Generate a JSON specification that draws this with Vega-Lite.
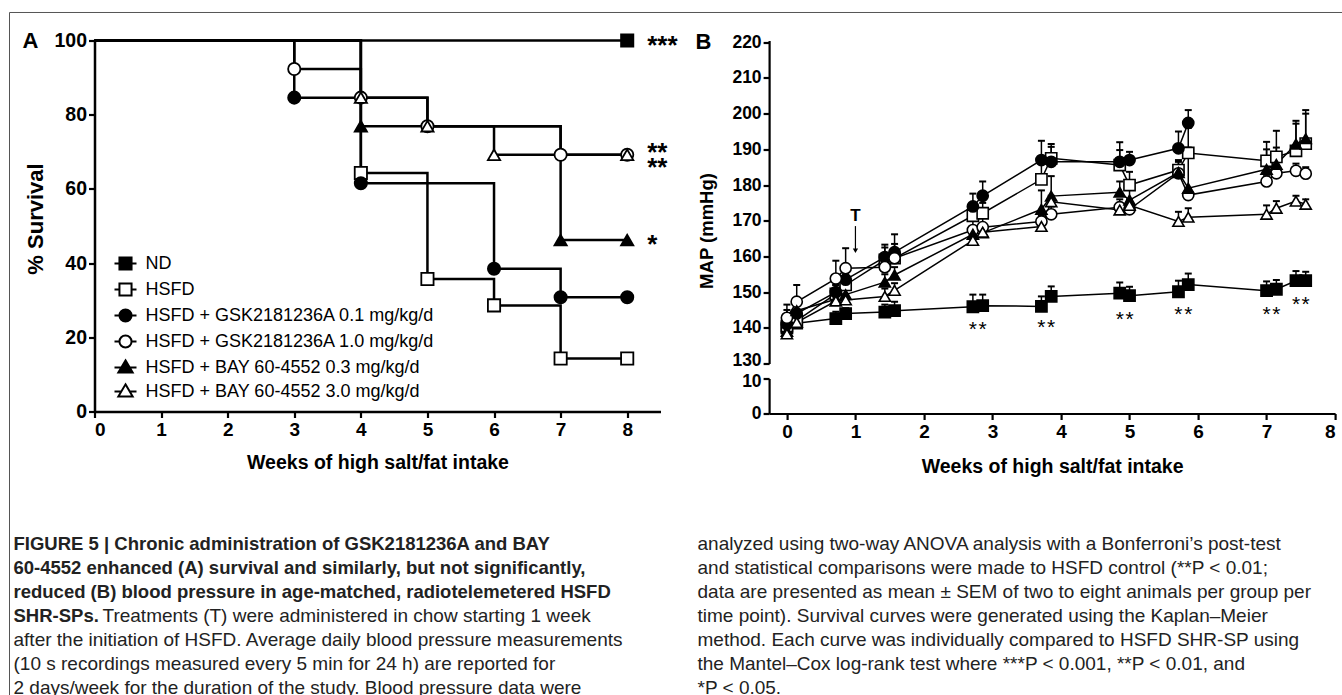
{
  "$schema": "https://vega.github.io/schema/vega-lite/v6.json",
  "autosize": {"type": "pad"},
  "padding": {"left": 8.5, "top": 11.5, "right": 0, "bottom": 0},
  "background": "white",
  "config": {
    "view": {"stroke": null},
    "font": "Liberation Sans",
    "axis": {
      "domainColor": "black", "tickColor": "black", "labelColor": "black", "titleColor": "black",
      "labelFont": "Liberation Sans", "titleFont": "Liberation Sans",
      "labelFontWeight": "bold", "titleFontWeight": "bold", "grid": false,
      "domainWidth": 2.5, "tickWidth": 2.2, "tickSize": 6, "labelOverlap": false, "format": "d", "tickCount": 30
    }
  },
  "datasets": {
    "km": [
      {"s": "ND", "t": 0, "v": 100}, {"s": "ND", "t": 8, "v": 100},
      {"s": "HSFD", "t": 0, "v": 100}, {"s": "HSFD", "t": 4, "v": 64.3}, {"s": "HSFD", "t": 5, "v": 35.7}, {"s": "HSFD", "t": 6, "v": 28.6}, {"s": "HSFD", "t": 7, "v": 14.3}, {"s": "HSFD", "t": 8, "v": 14.3},
      {"s": "G01", "t": 0, "v": 100}, {"s": "G01", "t": 3, "v": 84.6}, {"s": "G01", "t": 4, "v": 61.5}, {"s": "G01", "t": 6, "v": 38.5}, {"s": "G01", "t": 7, "v": 30.8}, {"s": "G01", "t": 8, "v": 30.8},
      {"s": "G10", "t": 0, "v": 100}, {"s": "G10", "t": 3, "v": 92.3}, {"s": "G10", "t": 4, "v": 84.6}, {"s": "G10", "t": 5, "v": 76.9}, {"s": "G10", "t": 7, "v": 69.2}, {"s": "G10", "t": 8, "v": 69.2},
      {"s": "B03", "t": 0, "v": 100}, {"s": "B03", "t": 4, "v": 76.9}, {"s": "B03", "t": 7, "v": 46.2}, {"s": "B03", "t": 8, "v": 46.2},
      {"s": "B30", "t": 0, "v": 100}, {"s": "B30", "t": 4, "v": 84.6}, {"s": "B30", "t": 5, "v": 76.9}, {"s": "B30", "t": 6, "v": 69.2}, {"s": "B30", "t": 8, "v": 69.2}
    ],
    "names": [
      {"name": "ND"}, {"name": "HSFD"},
      {"name": "HSFD + GSK2181236A 0.1 mg/kg/d"}, {"name": "HSFD + GSK2181236A 1.0 mg/kg/d"},
      {"name": "HSFD + BAY 60-4552 0.3 mg/kg/d"}, {"name": "HSFD + BAY 60-4552 3.0 mg/kg/d"}
    ],
    "kmsig": [
      {"t": 8.3, "v": 98.6, "lab": ["***"]},
      {"t": 8.3, "v": 69.8, "lab": ["**", "**"]},
      {"t": 8.3, "v": 44.8, "lab": ["*"]}
    ],
    "bp": [
      {"s": "ND", "t": 0, "v": 140, "hi": 142.5}, {"s": "ND", "t": 0.143, "v": 141.3, "hi": 143.5}, {"s": "ND", "t": 0.714, "v": 142.6, "hi": 144.5}, {"s": "ND", "t": 0.857, "v": 144, "hi": 145.5}, {"s": "ND", "t": 1.429, "v": 144.4, "hi": 146.5}, {"s": "ND", "t": 1.571, "v": 144.8, "hi": 147.3}, {"s": "ND", "t": 2.714, "v": 145.9, "hi": 149.3}, {"s": "ND", "t": 2.857, "v": 146.2, "hi": 149.3}, {"s": "ND", "t": 3.714, "v": 146, "hi": 148.8}, {"s": "ND", "t": 3.857, "v": 148.8, "hi": 151.6}, {"s": "ND", "t": 4.857, "v": 149.7, "hi": 152.7}, {"s": "ND", "t": 5.0, "v": 149, "hi": 151.5}, {"s": "ND", "t": 5.714, "v": 150.1, "hi": 153.2}, {"s": "ND", "t": 5.857, "v": 152.1, "hi": 155.2}, {"s": "ND", "t": 7.0, "v": 150.4, "hi": 153}, {"s": "ND", "t": 7.143, "v": 150.8, "hi": 153.4}, {"s": "ND", "t": 7.429, "v": 153.2, "hi": 155.9}, {"s": "ND", "t": 7.571, "v": 153.2, "hi": 155.7},
      {"s": "HSFD", "t": 0, "v": 140.5, "hi": 143}, {"s": "HSFD", "t": 0.143, "v": 142, "hi": 144}, {"s": "HSFD", "t": 0.714, "v": 149.5, "hi": 152}, {"s": "HSFD", "t": 0.857, "v": 152, "hi": 155}, {"s": "HSFD", "t": 1.429, "v": 159, "hi": 162.5}, {"s": "HSFD", "t": 1.571, "v": 159.5, "hi": 163.5}, {"s": "HSFD", "t": 2.714, "v": 171.4, "hi": 174}, {"s": "HSFD", "t": 2.857, "v": 172.1, "hi": 175}, {"s": "HSFD", "t": 3.714, "v": 181.6, "hi": 187}, {"s": "HSFD", "t": 3.857, "v": 187.5, "hi": 190.7}, {"s": "HSFD", "t": 4.857, "v": 185.6, "hi": 189.8}, {"s": "HSFD", "t": 5.0, "v": 180, "hi": 183.7}, {"s": "HSFD", "t": 5.714, "v": 184.2, "hi": 187}, {"s": "HSFD", "t": 5.857, "v": 189, "hi": 190.5}, {"s": "HSFD", "t": 7.0, "v": 186.8, "hi": 192.1}, {"s": "HSFD", "t": 7.143, "v": 187.9, "hi": 195.2}, {"s": "HSFD", "t": 7.429, "v": 189.6, "hi": 197.2}, {"s": "HSFD", "t": 7.571, "v": 191.6, "hi": 200},
      {"s": "G01", "t": 0, "v": 141, "hi": 146.5}, {"s": "G01", "t": 0.143, "v": 144, "hi": 147}, {"s": "G01", "t": 0.714, "v": 150, "hi": 152}, {"s": "G01", "t": 0.857, "v": 153.5, "hi": 156}, {"s": "G01", "t": 1.429, "v": 159.8, "hi": 163.3}, {"s": "G01", "t": 1.571, "v": 161.2, "hi": 166.2}, {"s": "G01", "t": 2.714, "v": 174, "hi": 177.6}, {"s": "G01", "t": 2.857, "v": 177, "hi": 181}, {"s": "G01", "t": 3.714, "v": 187, "hi": 192.4}, {"s": "G01", "t": 3.857, "v": 186.5, "hi": 191.5}, {"s": "G01", "t": 4.857, "v": 186.5, "hi": 192}, {"s": "G01", "t": 5.0, "v": 187, "hi": 189.3}, {"s": "G01", "t": 5.714, "v": 190.3, "hi": 195}, {"s": "G01", "t": 5.857, "v": 197.4, "hi": 201},
      {"s": "G10", "t": 0, "v": 142.8, "hi": 145}, {"s": "G10", "t": 0.143, "v": 147.3, "hi": 152}, {"s": "G10", "t": 0.714, "v": 153.8, "hi": 158.8}, {"s": "G10", "t": 0.857, "v": 156.7, "hi": 162.3}, {"s": "G10", "t": 1.429, "v": 157, "hi": 160}, {"s": "G10", "t": 1.571, "v": 159.5, "hi": 162}, {"s": "G10", "t": 2.714, "v": 167.4, "hi": 170}, {"s": "G10", "t": 2.857, "v": 168.2, "hi": 171}, {"s": "G10", "t": 3.714, "v": 169.8, "hi": 171.5}, {"s": "G10", "t": 3.857, "v": 171.8, "hi": 174}, {"s": "G10", "t": 4.857, "v": 173.8, "hi": 176}, {"s": "G10", "t": 5.0, "v": 173.2, "hi": 175}, {"s": "G10", "t": 5.714, "v": 183.3, "hi": 185}, {"s": "G10", "t": 5.857, "v": 177.2, "hi": 179}, {"s": "G10", "t": 7.0, "v": 181, "hi": 182.5}, {"s": "G10", "t": 7.143, "v": 183.3, "hi": 185}, {"s": "G10", "t": 7.429, "v": 184, "hi": 186}, {"s": "G10", "t": 7.571, "v": 183.2, "hi": 185},
      {"s": "B03", "t": 0, "v": 139, "hi": 141}, {"s": "B03", "t": 0.143, "v": 144.8, "hi": 147}, {"s": "B03", "t": 0.714, "v": 148, "hi": 150}, {"s": "B03", "t": 0.857, "v": 149.3, "hi": 152}, {"s": "B03", "t": 1.429, "v": 152.8, "hi": 155}, {"s": "B03", "t": 1.571, "v": 154.8, "hi": 157}, {"s": "B03", "t": 2.714, "v": 166.2, "hi": 168}, {"s": "B03", "t": 2.857, "v": 166.6, "hi": 168.5}, {"s": "B03", "t": 3.714, "v": 173.2, "hi": 178.5}, {"s": "B03", "t": 3.857, "v": 176.9, "hi": 182.5}, {"s": "B03", "t": 4.857, "v": 178, "hi": 181}, {"s": "B03", "t": 5.0, "v": 175.8, "hi": 181}, {"s": "B03", "t": 5.714, "v": 183.5, "hi": 186.5}, {"s": "B03", "t": 5.857, "v": 179.1, "hi": 196}, {"s": "B03", "t": 7.0, "v": 184.4, "hi": 190}, {"s": "B03", "t": 7.143, "v": 185.8, "hi": 190.5}, {"s": "B03", "t": 7.429, "v": 191.5, "hi": 198}, {"s": "B03", "t": 7.571, "v": 193, "hi": 201},
      {"s": "B30", "t": 0, "v": 138.3, "hi": 140}, {"s": "B30", "t": 0.143, "v": 141.5, "hi": 143}, {"s": "B30", "t": 0.714, "v": 147.5, "hi": 149}, {"s": "B30", "t": 0.857, "v": 147.8, "hi": 149.5}, {"s": "B30", "t": 1.429, "v": 148.8, "hi": 151}, {"s": "B30", "t": 1.571, "v": 150.5, "hi": 152.5}, {"s": "B30", "t": 2.714, "v": 164.5, "hi": 166}, {"s": "B30", "t": 2.857, "v": 166.8, "hi": 168}, {"s": "B30", "t": 3.714, "v": 168.4, "hi": 170}, {"s": "B30", "t": 3.857, "v": 175.3, "hi": 177}, {"s": "B30", "t": 4.857, "v": 173, "hi": 175}, {"s": "B30", "t": 5.0, "v": 174.3, "hi": 176}, {"s": "B30", "t": 5.714, "v": 169.8, "hi": 172.5}, {"s": "B30", "t": 5.857, "v": 171, "hi": 173.5}, {"s": "B30", "t": 7.0, "v": 171.8, "hi": 174.3}, {"s": "B30", "t": 7.143, "v": 173.5, "hi": 175.5}, {"s": "B30", "t": 7.429, "v": 175.5, "hi": 177}, {"s": "B30", "t": 7.571, "v": 174.6, "hi": 176}
    ],
    "bpsig": [
      {"t": 2.714, "v": 139.5}, {"t": 2.857, "v": 139.5},
      {"t": 3.714, "v": 139.9}, {"t": 3.857, "v": 139.9},
      {"t": 4.857, "v": 142.3}, {"t": 5.0, "v": 142.3},
      {"t": 5.714, "v": 143.5}, {"t": 5.857, "v": 143.5},
      {"t": 7.0, "v": 143.7}, {"t": 7.143, "v": 143.7},
      {"t": 7.429, "v": 146.5}, {"t": 7.571, "v": 146.5}
    ],
    "caption": [
      {"c": 0, "r": 0, "w": "b", "txt": "FIGURE 5 | Chronic administration of GSK2181236A and BAY"},
      {"c": 0, "r": 1, "w": "b", "txt": "60-4552 enhanced (A) survival and similarly, but not significantly,"},
      {"c": 0, "r": 2, "w": "b", "txt": "reduced (B) blood pressure in age-matched, radiotelemetered HSFD"},
      {"c": 0, "r": 3, "w": "b", "txt": "SHR-SPs."},
      {"c": 0, "r": 3, "w": "n2", "txt": "Treatments (T) were administered in chow starting 1 week"},
      {"c": 0, "r": 4, "w": "n", "txt": "after the initiation of HSFD. Average daily blood pressure measurements"},
      {"c": 0, "r": 5, "w": "n", "txt": "(10 s recordings measured every 5 min for 24 h) are reported for"},
      {"c": 0, "r": 6, "w": "n", "txt": "2 days/week for the duration of the study. Blood pressure data were"},
      {"c": 1, "r": 0, "w": "n", "txt": "analyzed using two-way ANOVA analysis with a Bonferroni’s post-test"},
      {"c": 1, "r": 1, "w": "n", "txt": "and statistical comparisons were made to HSFD control (**P < 0.01;"},
      {"c": 1, "r": 2, "w": "n", "txt": "data are presented as mean ± SEM of two to eight animals per group per"},
      {"c": 1, "r": 3, "w": "n", "txt": "time point). Survival curves were generated using the Kaplan–Meier"},
      {"c": 1, "r": 4, "w": "n", "txt": "method. Each curve was individually compared to HSFD SHR-SP using"},
      {"c": 1, "r": 5, "w": "n", "txt": "the Mantel–Cox log-rank test where ***P < 0.001, **P < 0.01, and"},
      {"c": 1, "r": 6, "w": "n", "txt": "*P < 0.05."}
    ]
  },
  "bounds": "flush",
  "spacing": 503,
  "vconcat": [
    {
      "bounds": "flush",
      "spacing": 108.6,
      "hconcat": [
        {
          "width": 566,
          "height": 371,
          "layer": [
            {
              "data": {"values": [{}]},
              "mark": {"type": "rule", "color": "#555", "strokeWidth": 1},
              "encoding": {
                "x": {"datum": -1.2765, "type": "quantitative"},
                "y": {"datum": 107.55, "type": "quantitative"},
                "y2": {"datum": -80}
              }
            },
            {
              "data": {"values": [{}]},
              "mark": {"type": "rule", "color": "#555", "strokeWidth": 1},
              "encoding": {
                "x": {"datum": -1.2765, "type": "quantitative"},
                "x2": {"datum": 19},
                "y": {"datum": 107.55, "type": "quantitative"}
              }
            },
            {
              "data": {"name": "km"},
              "mark": {"type": "line", "interpolate": "step-after", "color": "black", "strokeWidth": 2.5},
              "encoding": {
                "x": {"field": "t", "type": "quantitative", "scale": {"domain": [0, 8.5], "nice": false, "zero": false},
                  "axis": {"values": [0, 1, 2, 3, 4, 5, 6, 7, 8], "labelFontSize": 19, "labelPadding": 3, "title": "Weeks of high salt/fat intake", "titleFontSize": 19.5, "titleBaseline": "middle", "titleY": 51}},
                "y": {"field": "v", "type": "quantitative", "scale": {"domain": [0, 100], "nice": false},
                  "axis": {"values": [0, 20, 40, 60, 80, 100], "labelFontSize": 19.5, "labelPadding": 2, "title": "% Survival", "titleFontSize": 22, "titleBaseline": "middle", "titleX": -59, "titleY": 178}},
                "detail": {"field": "s"}
              }
            },
            {
              "data": {"name": "km"},
              "transform": [{"filter": "datum.t > 0"}],
              "mark": {"type": "point", "filled": true, "stroke": "black", "strokeWidth": 1.8, "size": 150, "opacity": 1},
              "encoding": {
                "x": {"field": "t", "type": "quantitative"},
                "y": {"field": "v", "type": "quantitative"},
                "shape": {"condition": [{"test": "datum.s == 'ND' || datum.s == 'HSFD'", "value": "square"}, {"test": "datum.s == 'G01' || datum.s == 'G10'", "value": "circle"}], "value": "triangle-up"},
                "fill": {"condition": {"test": "datum.s == 'ND' || datum.s == 'G01' || datum.s == 'B03'", "value": "black"}, "value": "white"}
              }
            },
            {
              "data": {"name": "names"},
              "mark": {"type": "point", "filled": true, "strokeWidth": 2, "opacity": 1, "clip": true},
              "encoding": {
                "x": {"datum": -1, "type": "quantitative"},
                "y": {"datum": 50, "type": "quantitative"},
                "shape": {"field": "name", "type": "nominal",
                  "scale": {
                    "domain": ["ND", "HSFD", "HSFD + GSK2181236A 0.1 mg/kg/d", "HSFD + GSK2181236A 1.0 mg/kg/d", "HSFD + BAY 60-4552 0.3 mg/kg/d", "HSFD + BAY 60-4552 3.0 mg/kg/d"],
                    "range": [
                      "M-1,0H-0.55M0.55,0H1M-0.55,-0.55H0.55V0.55H-0.55Z",
                      "M-1,0H-0.55M0.55,0H1M-0.55,-0.55H0.55V0.55H-0.55Z",
                      "M-1,0H-0.55M0.55,0H1M0.55,0A0.55,0.55,0,1,1,-0.55,0A0.55,0.55,0,1,1,0.55,0Z",
                      "M-1,0H-0.55M0.55,0H1M0.55,0A0.55,0.55,0,1,1,-0.55,0A0.55,0.55,0,1,1,0.55,0Z",
                      "M-1,0H-0.38M0.38,0H1M0,-0.65L0.65,0.45H-0.65Z",
                      "M-1,0H-0.38M0.38,0H1M0,-0.65L0.65,0.45H-0.65Z"
                    ]
                  },
                  "legend": {"title": null, "orient": "none", "legendX": 19, "legendY": 211, "padding": 0, "symbolSize": 484, "symbolStrokeWidth": 2, "labelFontSize": 18, "labelFont": "Liberation Sans", "labelColor": "black", "labelOffset": 8, "rowPadding": 3, "labelLimit": 400}
                },
                "fill": {"field": "name", "type": "nominal",
                  "scale": {
                    "domain": ["ND", "HSFD", "HSFD + GSK2181236A 0.1 mg/kg/d", "HSFD + GSK2181236A 1.0 mg/kg/d", "HSFD + BAY 60-4552 0.3 mg/kg/d", "HSFD + BAY 60-4552 3.0 mg/kg/d"],
                    "range": ["black", "white", "black", "white", "black", "white"]
                  },
                  "legend": {"title": null, "orient": "none", "legendX": 19, "legendY": 211, "padding": 0, "symbolSize": 484, "symbolStrokeWidth": 2, "labelFontSize": 18, "labelFont": "Liberation Sans", "labelColor": "black", "labelOffset": 8, "rowPadding": 3, "labelLimit": 400}
                },
                "stroke": {"field": "name", "type": "nominal",
                  "scale": {
                    "domain": ["ND", "HSFD", "HSFD + GSK2181236A 0.1 mg/kg/d", "HSFD + GSK2181236A 1.0 mg/kg/d", "HSFD + BAY 60-4552 0.3 mg/kg/d", "HSFD + BAY 60-4552 3.0 mg/kg/d"],
                    "range": ["black", "black", "black", "black", "black", "black"]
                  },
                  "legend": {"title": null, "orient": "none", "legendX": 19, "legendY": 211, "padding": 0, "symbolSize": 484, "symbolStrokeWidth": 2, "labelFontSize": 18, "labelFont": "Liberation Sans", "labelColor": "black", "labelOffset": 8, "rowPadding": 3, "labelLimit": 400}
                }
              }
            },
            {
              "data": {"name": "kmsig"},
              "mark": {"type": "text", "align": "left", "baseline": "middle", "fontSize": 26, "fontWeight": "bold", "color": "black", "lineHeight": 15},
              "encoding": {
                "x": {"field": "t", "type": "quantitative"},
                "y": {"field": "v", "type": "quantitative"},
                "text": {"field": "lab"}
              }
            },
            {
              "data": {"values": [{}]},
              "mark": {"type": "text", "align": "center", "baseline": "middle", "fontSize": 22, "fontWeight": "bold", "color": "black", "text": "A"},
              "encoding": {
                "x": {"datum": -0.961, "type": "quantitative"},
                "y": {"datum": 100, "type": "quantitative"}
              }
            }
          ]
        },
        {
          "bounds": "flush",
          "spacing": 15,
          "vconcat": [
            {
              "width": 566,
              "height": 323,
              "layer": [
                {
                  "data": {"name": "bp"},
                  "mark": {"type": "line", "color": "black", "strokeWidth": 1.5},
                  "encoding": {
                    "x": {"field": "t", "type": "quantitative", "scale": {"domain": [-0.26, 8], "nice": false, "zero": false}, "axis": null},
                    "y": {"field": "v", "type": "quantitative", "scale": {"domain": [130, 220.5], "nice": false, "zero": false},
                      "axis": {"values": [130, 140, 150, 160, 170, 180, 190, 200, 210, 220], "tickCount": 30, "labelOverlap": false, "labelFontSize": 17.5, "labelPadding": 2, "labelOffset": {"condition": {"test": "datum.value == 130", "value": -3}, "value": 0}, "domainWidth": 2.2, "title": "MAP (mmHg)", "titleFontSize": 18.5, "titleBaseline": "middle", "titleX": -62.6, "titleY": 190}},
                    "detail": {"field": "s"}
                  }
                },
                {
                  "data": {"name": "bp"},
                  "mark": {"type": "rule", "color": "black", "strokeWidth": 1.5},
                  "encoding": {
                    "x": {"field": "t", "type": "quantitative"},
                    "y": {"field": "v", "type": "quantitative"},
                    "y2": {"field": "hi"}
                  }
                },
                {
                  "data": {"name": "bp"},
                  "mark": {"type": "tick", "orient": "horizontal", "color": "black", "size": 7, "thickness": 2, "opacity": 1},
                  "encoding": {
                    "x": {"field": "t", "type": "quantitative"},
                    "y": {"field": "hi", "type": "quantitative"}
                  }
                },
                {
                  "data": {"name": "bp"},
                  "mark": {"type": "point", "filled": true, "stroke": "black", "strokeWidth": 1.6, "size": 125, "opacity": 1},
                  "encoding": {
                    "x": {"field": "t", "type": "quantitative"},
                    "y": {"field": "v", "type": "quantitative"},
                    "shape": {"condition": [{"test": "datum.s == 'ND' || datum.s == 'HSFD'", "value": "square"}, {"test": "datum.s == 'G01' || datum.s == 'G10'", "value": "circle"}], "value": "triangle-up"},
                    "fill": {"condition": {"test": "datum.s == 'ND' || datum.s == 'G01' || datum.s == 'B03'", "value": "black"}, "value": "white"}
                  }
                },
                {
                  "data": {"name": "bpsig"},
                  "mark": {"type": "text", "align": "center", "baseline": "middle", "fontSize": 21, "color": "black", "text": "*"},
                  "encoding": {
                    "x": {"field": "t", "type": "quantitative"},
                    "y": {"field": "v", "type": "quantitative"}
                  }
                },
                {
                  "data": {"values": [{}]},
                  "mark": {"type": "text", "align": "center", "baseline": "middle", "fontSize": 17, "fontWeight": "bold", "color": "black", "text": "T"},
                  "encoding": {
                    "x": {"datum": 1, "type": "quantitative"},
                    "y": {"datum": 171.3, "type": "quantitative"}
                  }
                },
                {
                  "data": {"values": [{}]},
                  "mark": {"type": "rule", "color": "black", "strokeWidth": 1.2},
                  "encoding": {
                    "x": {"datum": 1, "type": "quantitative"},
                    "y": {"datum": 168.5, "type": "quantitative"},
                    "y2": {"datum": 162}
                  }
                },
                {
                  "data": {"values": [{}]},
                  "mark": {"type": "point", "shape": "triangle-down", "filled": true, "color": "black", "size": 28, "opacity": 1},
                  "encoding": {
                    "x": {"datum": 1, "type": "quantitative"},
                    "y": {"datum": 161.6, "type": "quantitative"}
                  }
                },
                {
                  "data": {"values": [{}]},
                  "mark": {"type": "text", "align": "center", "baseline": "middle", "fontSize": 22, "fontWeight": "bold", "color": "black", "text": "B"},
                  "encoding": {
                    "x": {"datum": -1.217, "type": "quantitative"},
                    "y": {"datum": 220, "type": "quantitative"}
                  }
                }
              ]
            },
            {
              "width": 566,
              "height": 35,
              "data": {"values": [{"t": 0, "v": 0}]},
              "mark": {"type": "text", "text": ""},
              "encoding": {
                "x": {"field": "t", "type": "quantitative", "scale": {"domain": [-0.26, 8], "nice": false, "zero": false},
                  "axis": {"values": [0, 1, 2, 3, 4, 5, 6, 7, 8], "labelFontSize": 19, "labelPadding": 3, "domainWidth": 2.2, "title": "Weeks of high salt/fat intake", "titleFontSize": 19.5, "titleBaseline": "middle", "titleY": 53}},
                "y": {"field": "v", "type": "quantitative", "scale": {"domain": [0, 10], "nice": false},
                  "axis": {"values": [0, 10], "labelFontSize": 17.5, "labelPadding": 2, "labelOffset": {"condition": {"test": "datum.value == 10", "value": 3}, "value": 0}, "domainWidth": 2.2, "title": null}}
              }
            }
          ]
        }
      ]
    },
    {
      "width": 684,
      "height": 144,
      "data": {"name": "caption"},
      "encoding": {
        "x": {"field": "c", "type": "quantitative", "scale": {"domain": [0.11842, 1.11842], "nice": false, "zero": false}, "axis": null},
        "y": {"field": "r", "type": "quantitative", "scale": {"domain": [0, 6], "nice": false, "reverse": true}, "axis": null},
        "text": {"field": "txt"}
      },
      "layer": [
        {
          "transform": [{"filter": "datum.w == 'b'"}],
          "mark": {"type": "text", "align": "left", "baseline": "middle", "fontSize": 18.5, "fontWeight": "bold", "font": "Liberation Sans", "color": "#222"}
        },
        {
          "transform": [{"filter": "datum.w == 'n'"}],
          "mark": {"type": "text", "align": "left", "baseline": "middle", "fontSize": 19, "font": "Liberation Sans", "color": "#222"}
        },
        {
          "transform": [{"filter": "datum.w == 'n2'"}],
          "mark": {"type": "text", "align": "left", "baseline": "middle", "fontSize": 19, "font": "Liberation Sans", "color": "#222", "dx": 89}
        }
      ]
    }
  ]
}
